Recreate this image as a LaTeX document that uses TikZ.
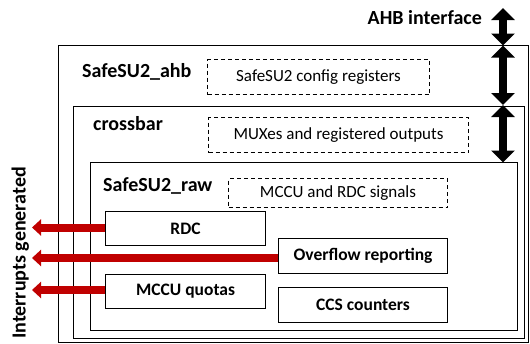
\documentclass[tikz,border=0pt]{standalone}
\usepackage{fontspec}
\setmainfont{Carlito}
\usetikzlibrary{arrows.meta}
\definecolor{intred}{HTML}{C00000}
\tikzset{
  box/.style={draw=black, line width=1.1pt, anchor=north west, inner sep=0pt},
  dbox/.style={draw=black, line width=1pt, dash pattern=on 4pt off 3pt, anchor=north west, inner sep=0pt},
  title/.style={font=\fontsize{20}{20}\selectfont\bfseries, inner sep=0pt},
  txt/.style={font=\fontsize{17}{17}\selectfont, inner sep=0pt},
  btxt/.style={font=\fontsize{17.5}{17.5}\selectfont\bfseries, inner sep=0pt},
  busarrow/.style={line width=8pt, {Triangle[width=23pt,length=12pt]}-{Triangle[width=23pt,length=12pt]}},
  irq/.style={intred, line width=8pt, -{Triangle[width=16pt,length=9pt]}},
}
\begin{document}
\begin{tikzpicture}[x=1pt,y=-1pt]
\useasboundingbox (0,0) rectangle (530,343);
% containers
\node[box, minimum width=470pt, minimum height=297pt] (ahb) at (58,45) {};
\node[box, minimum width=451pt, minimum height=232pt] (xbar) at (72.5,105.5) {};
\node[box, minimum width=427pt, minimum height=168pt] (raw) at (90,162) {};
% titles
\node[title, anchor=base east] (ahbif) at (482,24) {AHB interface};
\node[title, anchor=base west] (lahb) at (82,77) {SafeSU2\_ahb};
\node[title, anchor=base west] (lxbar) at (93,130) {crossbar};
\node[title, anchor=base west] (lraw) at (103,191) {SafeSU2\_raw};
% dashed boxes
\node[dbox, minimum width=222pt, minimum height=35pt] (cfg) at (207,59) {};
\node[txt] at (cfg.center) {SafeSU2 config registers};
\node[dbox, minimum width=260pt, minimum height=35pt] (mux) at (208,117) {};
\node[txt] at (mux.center) {MUXes and registered outputs};
\node[dbox, minimum width=219pt, minimum height=29pt] (sig) at (228,178) {};
\node[txt] at (sig.center) {MCCU and RDC signals};
% inner blocks
\node[box, minimum width=160pt, minimum height=34pt] (rdc) at (105,211) {};
\node[btxt] at (rdc.center) {RDC};
\node[box, minimum width=169pt, minimum height=35pt] (ovf) at (278,238) {};
\node[btxt] at (ovf.center) {Overflow reporting};
\node[box, minimum width=160pt, minimum height=34pt] (mccu) at (105,274) {};
\node[btxt] at (mccu.center) {MCCU quotas};
\node[box, minimum width=169pt, minimum height=35pt] (ccs) at (278,287) {};
\node[btxt] at (ccs.center) {CCS counters};
% bus arrows
\coordinate (b0) at (503,8);
\coordinate (b1) at (503,45.5);
\coordinate (b2) at (503,105);
\coordinate (b3) at (503,162.5);
\draw[busarrow] (b0) -- (b1);
\draw[busarrow] (b1) -- (b2);
\draw[busarrow] (b2) -- (b3);
% interrupts
\node[title, rotate=90, anchor=base] (irqlbl) at (25.5,253) {Interrupts generated};
\coordinate (t1) at (32,227.5);
\coordinate (t2) at (32,258);
\coordinate (t3) at (32,290);
\draw[irq] (rdc.west |- t1) -- (t1);
\draw[irq] (ovf.west |- t2) -- (t2);
\draw[irq] (mccu.west |- t3) -- (t3);
\end{tikzpicture}
\end{document}
